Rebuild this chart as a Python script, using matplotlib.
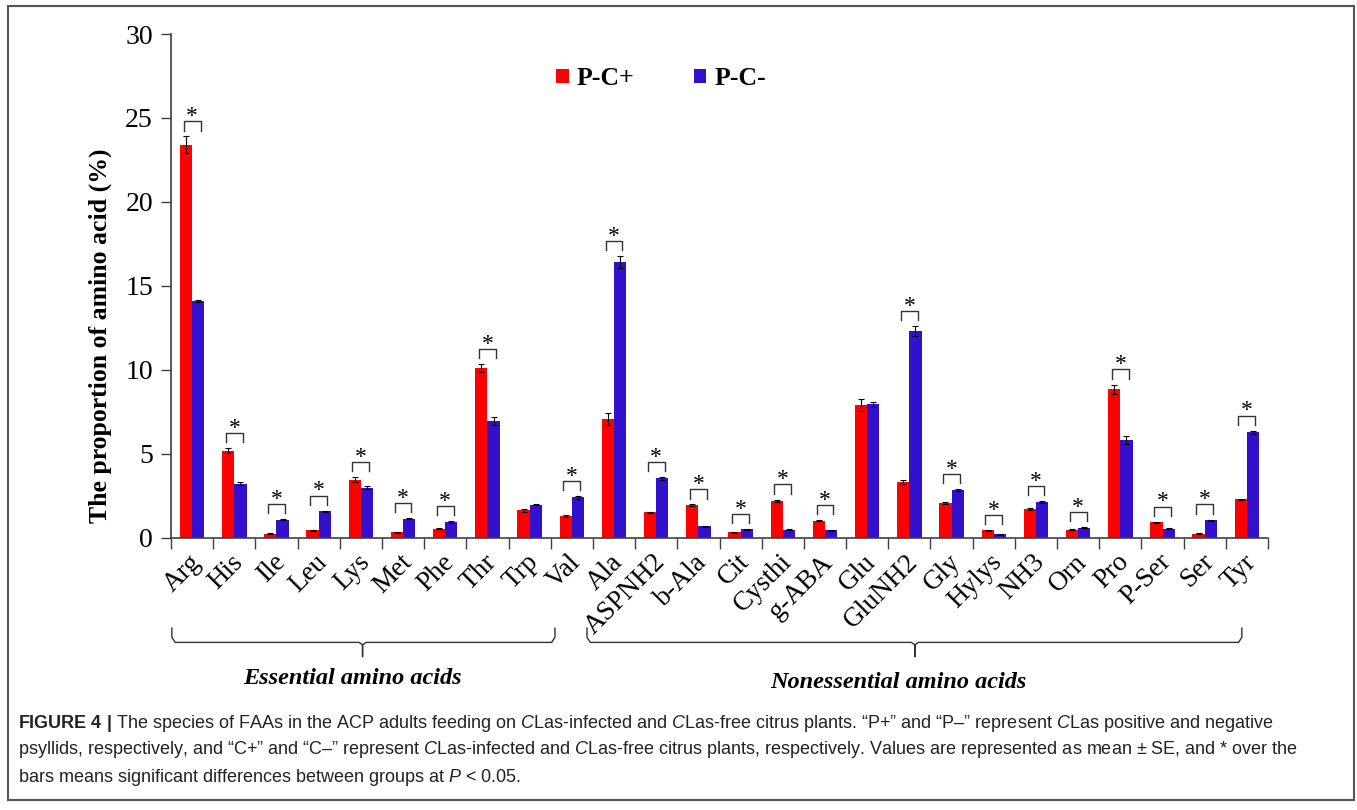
import matplotlib
matplotlib.use("Agg")
import matplotlib.pyplot as plt
import matplotlib.transforms as mtransforms
import numpy as np
from matplotlib.patches import Rectangle

plt.rcParams["font.family"] = ["Liberation Serif", "DejaVu Serif"]
plt.rcParams["mathtext.fontset"] = "custom"
plt.rcParams["mathtext.rm"] = "Liberation Sans"
plt.rcParams["mathtext.it"] = "Liberation Sans:italic"
plt.rcParams["mathtext.bf"] = "Liberation Sans:bold"

# -----------------------------
# data
# -----------------------------
amino_acids = ["Arg", "His", "Ile", "Leu", "Lys", "Met", "Phe", "Thr", "Trp", "Val",
               "Ala", "ASPNH2", "b-Ala", "Cit", "Cysthi", "g-ABA", "Glu", "GluNH2",
               "Gly", "Hylys", "NH3", "Orn", "Pro", "P-Ser", "Ser", "Tyr"]
pc_plus = [23.4, 5.17, 0.22, 0.42, 3.44, 0.30, 0.52, 10.1, 1.61, 1.27,
           7.06, 1.49, 1.92, 0.32, 2.19, 1.01, 7.89, 3.28,
           2.05, 0.43, 1.69, 0.46, 8.83, 0.91, 0.22, 2.27]
pc_minus = [14.1, 3.20, 1.07, 1.55, 2.96, 1.13, 0.93, 6.94, 1.95, 2.39,
            16.42, 3.52, 0.68, 0.48, 0.46, 0.42, 7.95, 12.3,
            2.82, 0.18, 2.11, 0.58, 5.80, 0.52, 1.03, 6.26]
pc_plus_se = [0.50, 0.15, 0.03, 0.03, 0.15, 0.03, 0.04, 0.25, 0.07, 0.05,
              0.35, 0.04, 0.05, 0.03, 0.07, 0.04, 0.38, 0.12,
              0.05, 0.03, 0.05, 0.03, 0.28, 0.03, 0.02, 0.05]
pc_minus_se = [0.05, 0.08, 0.03, 0.05, 0.08, 0.04, 0.04, 0.25, 0.04, 0.07,
               0.35, 0.08, 0.03, 0.03, 0.03, 0.03, 0.15, 0.28,
               0.07, 0.02, 0.05, 0.04, 0.25, 0.03, 0.04, 0.10]
significant = [1, 1, 1, 1, 1, 1, 1, 1, 0, 1,
               1, 1, 1, 1, 1, 1, 0, 1,
               1, 1, 1, 1, 1, 1, 1, 1]

RED = "#ff0000"
BLUE = "#3311cc"
AXC = "#404040"

fig = plt.figure(figsize=(13.57, 8.10), dpi=100)
ax = fig.add_axes([171 / 1357, 1 - 537.5 / 810, 1097 / 1357, 503.5 / 810])

x = np.arange(len(amino_acids)) + 0.5
w = 0.29
ekw = dict(ecolor="black", elinewidth=0.8, capthick=0.8)
ax.bar(x - w / 2, pc_plus, w, color=RED, yerr=pc_plus_se, capsize=2.5,
       error_kw=ekw, label="P-C+", zorder=2)
ax.bar(x + w / 2, pc_minus, w, color=BLUE, yerr=pc_minus_se, capsize=2.5,
       error_kw=ekw, label="P-C-", zorder=2)

# significance brackets
for xi, a, b, sa, sb, s in zip(x, pc_plus, pc_minus, pc_plus_se, pc_minus_se, significant):
    if not s:
        continue
    y0 = max(a + sa, b + sb) + 0.35
    y1 = y0 + 0.55
    ax.plot([xi - 0.2, xi - 0.2, xi + 0.2, xi + 0.2], [y0, y1, y1, y0],
            color="#333333", lw=1.0, zorder=3)
    ax.text(xi, y1 - 0.05, "*", ha="center", va="baseline", fontsize=17)

ax.set_xlim(0, len(amino_acids))
ax.set_ylim(0, 30)
ax.set_yticks(range(0, 31, 5))
ax.tick_params(axis="y", labelsize=20, length=7, width=1, color=AXC, pad=6)
ax.set_xticks(range(len(amino_acids) + 1))
ax.set_xticklabels([])
ax.tick_params(axis="x", which="major", length=8, width=1, color=AXC)
ax.set_xticks(x, minor=True)
ax.set_xticklabels(amino_acids, minor=True, rotation=45, ha="right",
                   va="center", rotation_mode="anchor", fontsize=19.5)
ax.tick_params(axis="x", which="minor", length=0, pad=15)
shift = mtransforms.ScaledTranslation(5 / 100, 0, fig.dpi_scale_trans)
for lab in ax.get_xticklabels(minor=True):
    lab.set_transform(lab.get_transform() + shift)

for sp in ["top", "right"]:
    ax.spines[sp].set_visible(False)
for sp in ["left", "bottom"]:
    ax.spines[sp].set_color(AXC)
    ax.spines[sp].set_linewidth(1.2)

ax.set_ylabel("The proportion of amino acid (%)", fontsize=18.5, fontweight="bold")
ax.yaxis.set_label_coords(-0.054, 0.40)

ax.legend(loc="upper left", bbox_to_anchor=(0.33, 0.98), ncol=2, frameon=False,
          handlelength=0.5, handleheight=0.5, handletextpad=0.3,
          columnspacing=2.3, prop={"weight": "bold", "size": 18.5})


# curly braces under the axis
def brace(x0, x1, xc, top=-5.4, mid=-6.25, tip=-7.1):
    r = 0.08
    xs = [x0, x0, x0 + r, xc - r, xc, xc, xc, xc + r, x1 - r, x1, x1]
    ys = [top, mid + 0.3, mid, mid, mid - 0.15, tip, mid - 0.15, mid, mid, mid + 0.3, top]
    ax.plot(xs, ys, color="#333333", lw=1.0, clip_on=False)


brace(0.02, 9.1, 4.54)
brace(9.86, 25.38, 17.63)
ax.text(4.3, -8.4, "Essential amino acids", ha="center", va="center",
        fontsize=17.5, fontweight="bold", style="italic")
ax.text(17.25, -8.65, "Nonessential amino acids", ha="center", va="center",
        fontsize=17.5, fontweight="bold", style="italic")

# caption
cap_kw = dict(fontsize=13.0, color="#222222", family=["Liberation Sans", "DejaVu Sans"],
              va="center", ha="left")
fig.text(18 / 1357, 1 - 723 / 810,
         r"$\mathbf{FIGURE\ 4\ |}$ The species of FAAs in the ACP adults feeding on "
         r"$\mathit{C}$Las-infected and $\mathit{C}$Las-free citrus plants. “P+” and “P–” "
         r"represent $\mathit{C}$Las positive and negative", **cap_kw)
fig.text(18 / 1357, 1 - 750 / 810,
         r"psyllids, respectively, and “C+” and “C–” represent $\mathit{C}$Las-infected and "
         r"$\mathit{C}$Las-free citrus plants, respectively. Values are represented as mean ± SE, "
         r"and * over the", **cap_kw)
fig.text(18 / 1357, 1 - 777 / 810,
         r"bars means significant differences between groups at $\mathit{P}$ < 0.05.", **cap_kw)

# outer frame
fig.patches.append(Rectangle((8 / 1357, 10 / 810), 1346 / 1357, 794 / 810,
                             transform=fig.transFigure, fill=False,
                             edgecolor="#555555", lw=1.5))

fig.savefig("out.png", dpi=100)
